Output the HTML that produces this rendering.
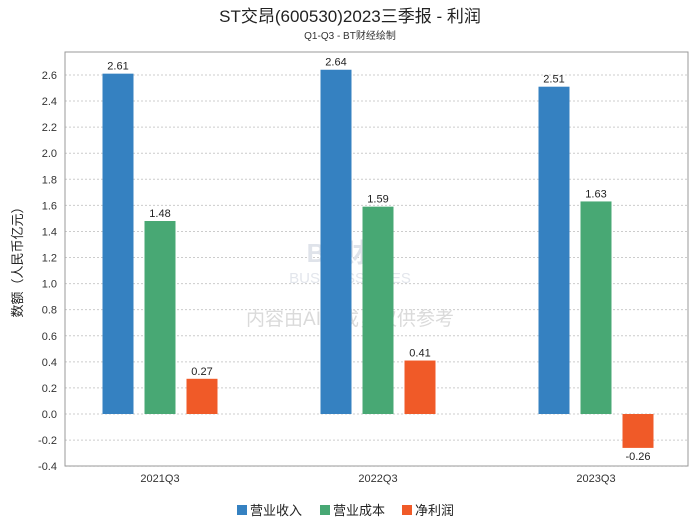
<!DOCTYPE html>
<html><head><meta charset="utf-8"><style>
body{margin:0;background:#fff;}
svg{display:block;font-family:"Liberation Sans","Noto Sans CJK SC",sans-serif;}
</style></head><body>
<svg id="c" width="700" height="524">
<text x="350" y="22" text-anchor="middle" font-size="17" fill="#222">ST交昂(600530)2023三季报 - 利润</text>
<text x="350" y="39" text-anchor="middle" font-size="10" fill="#333">Q1-Q3 - BT财经绘制</text>
<g id="grid"></g>
<text x="350" y="262" text-anchor="middle" font-size="26" font-weight="bold" fill="#dfe3ea">BT财经</text>
<text x="350" y="283" text-anchor="middle" font-size="15" fill="#e3e6ec">BUSINESSTIMES</text>
<text x="350" y="325" text-anchor="middle" font-size="19" fill="#dadada">内容由AI生成，仅供参考</text>
<g id="bars"></g>
<rect x="65" y="52" width="623" height="414" fill="none" stroke="#999"/>
<text transform="translate(22,259) rotate(-90)" text-anchor="middle" font-size="13" fill="#222">数额（人民币亿元）</text>
<g id="legend"></g>
</svg>
<script>
const categories=["2021Q3","2022Q3","2023Q3"];
const seriesNames=["营业收入","营业成本","净利润"];
const revenue=[2.61,2.64,2.51];
const cost=[1.48,1.59,1.63];
const profit=[0.27,0.41,-0.26];
const yTicks=[-0.4,-0.2,0.0,0.2,0.4,0.6,0.8,1.0,1.2,1.4,1.6,1.8,2.0,2.2,2.4,2.6];
const colors=["#3581c1","#48a874","#f05a28"];
const NS="http://www.w3.org/2000/svg";
const L=65,R=688,T=52,B=466;
const y=v=>414-(v/0.2)*26.08;
const xc=i=>160+218*i;
function mk(tag,attrs,parent,txt){const e=document.createElementNS(NS,tag);for(const k in attrs)e.setAttribute(k,attrs[k]);if(txt!==undefined)e.textContent=txt;document.getElementById(parent).appendChild(e);return e;}
yTicks.forEach(t=>{
  const g=mk('line',{x1:L,x2:R,y1:y(t),y2:y(t),stroke:'#ccc','stroke-dasharray':'2,2'},'grid');
  
  
  const tx=mk('text',{x:L-8,y:y(t)+4,'text-anchor':'end','font-size':11,fill:'#333'},'grid',t.toFixed(1));
  
  
});
categories.forEach((c,i)=>{
  const tx=mk('text',{x:xc(i),y:B+16,'text-anchor':'middle','font-size':11,fill:'#333'},'grid',c);
  
  
  [revenue,cost,profit].forEach((s,j)=>{
    const v=s[i],x=xc(i)+(j-1)*42-15.5,y0=y(0),yv=y(v);
    const r=mk('rect',{x:x,y:Math.min(y0,yv),width:31,height:Math.abs(y0-yv),fill:colors[j]},'bars');
    
    
    const lt=mk('text',{x:x+15.5,y:v>=0?yv-4:yv+12,'text-anchor':'middle','font-size':11,fill:'#222'},'bars',v.toFixed(2));
    
    
  });
});
const lx=[237,320,402];
seriesNames.forEach((n,j)=>{
  const r=mk('rect',{x:lx[j],y:505,width:10,height:10,fill:colors[j]},'legend');
  
  
  const t=mk('text',{x:lx[j]+13,y:515,'font-size':13,fill:'#222'},'legend',n);
  
  
});
</script>
</body></html>
